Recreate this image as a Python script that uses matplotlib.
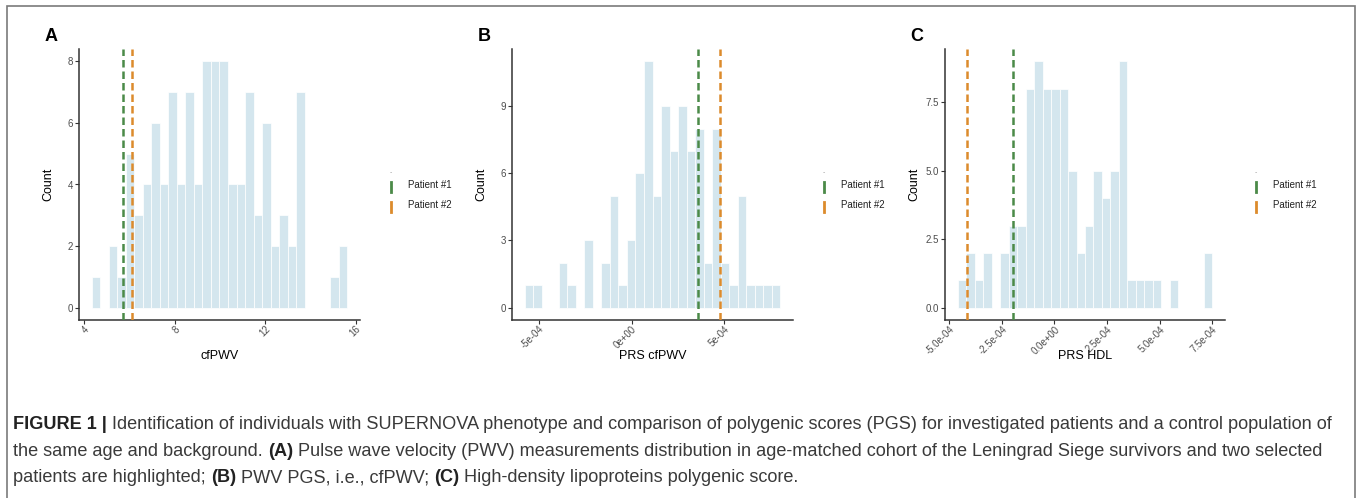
import numpy as np
import matplotlib
matplotlib.use("Agg")
import matplotlib.pyplot as plt
from matplotlib.lines import Line2D
from matplotlib.patches import Rectangle

plt.rcParams['font.family'] = ['Liberation Sans', 'DejaVu Sans']

# ---- data (30 bins per panel) ----
a_range = (4.34, 15.63)
a_counts = [1, 0, 2, 1, 5, 3, 4, 6, 4, 7, 4, 7, 4, 8, 8, 8, 4, 4, 7, 3,
            6, 2, 3, 2, 7, 0, 0, 0, 1, 2]
a_patients = [5.71, 6.12]

b_range = (-5.77e-4, 8.04e-4)
b_counts = [1, 1, 0, 0, 2, 1, 0, 3, 0, 2, 5, 1, 3, 6, 11, 5, 9, 7, 9, 7,
            8, 2, 8, 2, 1, 5, 1, 1, 1, 1]
b_patients = [3.60e-4, 4.77e-4]

c_range = (-4.60e-4, 7.50e-4)
c_counts = [1, 2, 1, 2, 0, 2, 3, 3, 8, 9, 8, 8, 8, 5, 2, 3, 5, 4, 5, 9,
            1, 1, 1, 1, 0, 1, 0, 0, 0, 2]
c_patients = [-1.95e-4, -4.14e-4]

a_xticks = [4, 8, 12, 16]
a_xlabels = ['4', '8', '12', '16']
a_yticks = [0, 2, 4, 6, 8]
a_ylabels = ['0', '2', '4', '6', '8']

b_xticks = [-5e-4, 0, 5e-4]
b_xlabels = ['-5e-04', '0e+00', '5e-04']
b_yticks = [0, 3, 6, 9]
b_ylabels = ['0', '3', '6', '9']

c_xticks = [-5e-4, -2.5e-4, 0, 2.5e-4, 5e-4, 7.5e-4]
c_xlabels = ['-5.0e-04', '-2.5e-04', '0.0e+00', '2.5e-04', '5.0e-04', '7.5e-04']
c_yticks = [0, 2.5, 5.0, 7.5]
c_ylabels = ['0.0', '2.5', '5.0', '7.5']

patient_names = ['Patient #1', 'Patient #2']
patient_colors = ['#4b8a48', '#dc8b2c']
bar_color = '#d4e6ee'

W, H = 1357, 498
fig = plt.figure(figsize=(W / 100, H / 100), dpi=100)

# outer frame
fig.add_artist(Rectangle((7 / W, -0.1), (1355 - 7) / W, 1.1 - 6 / H,
                         transform=fig.transFigure, fill=False,
                         edgecolor='#7a7a7a', linewidth=1.2))


def px_axes(x0, x1, y0, y1):
    return fig.add_axes([x0 / W, 1 - y1 / H, (x1 - x0) / W, (y1 - y0) / H])


def panel(ax, rng, counts, patients, xticks, xlabels, yticks, ylabels,
          xlabel, letter):
    counts = np.array(counts)
    edges = np.linspace(rng[0], rng[1], len(counts) + 1)
    keep = counts > 0
    ax.bar(edges[:-1][keep], counts[keep], width=np.diff(edges)[keep],
           align='edge', color=bar_color, edgecolor='white', linewidth=0.5,
           zorder=1)
    for xv, col in zip(patients, patient_colors):
        ax.axvline(xv, color=col, linewidth=1.8, linestyle=(0, (3.0, 1.6)),
                   zorder=3)
    lo = min(rng[0], min(patients))
    hi = max(rng[1], max(patients))
    pad = (hi - lo) * 0.05
    ax.set_xlim(lo - pad, hi + pad)
    ymax = counts.max()
    ax.set_ylim(-0.05 * ymax, 1.05 * ymax)

    ax.set_xticks(xticks)
    ax.set_xticklabels(xlabels, rotation=45, ha='right', va='top',
                       rotation_mode='anchor', fontsize=6.9)
    ax.set_yticks(yticks)
    ax.set_yticklabels(ylabels, fontsize=7.0)
    ax.tick_params(labelcolor='#4d4d4d', color='#333333',
                   length=3, width=0.8)
    ax.tick_params(axis='x', pad=0)
    ax.tick_params(axis='y', pad=1.5)
    for s in ['top', 'right']:
        ax.spines[s].set_visible(False)
    for s in ['left', 'bottom']:
        ax.spines[s].set_color('#333333')
        ax.spines[s].set_linewidth(1.1)

    ax.set_xlabel(xlabel, fontsize=9)
    ax.xaxis.set_label_coords(0.5, -0.112)
    ax.set_ylabel('Count', fontsize=9)
    ax.yaxis.set_label_coords(-0.088, 0.5)

    ax.text(-0.10, 1.045, letter, transform=ax.transAxes, fontsize=13,
            fontweight='bold', ha='center', va='center')

    # legend drawn beside the panel
    ax.text(1.111, 0.545, '-', transform=ax.transAxes, fontsize=5,
            color='#a0a0a0', ha='center', va='center')
    for i, (name, col) in enumerate(zip(patient_names, patient_colors)):
        yc = 0.495 - i * 0.074
        ax.add_line(Line2D([1.111, 1.111], [yc - 0.022, yc + 0.013],
                           transform=ax.transAxes, color=col, linewidth=2,
                           clip_on=False))
        ax.text(1.172, yc + 0.005, name, transform=ax.transAxes, fontsize=7,
                ha='left', va='center', color='#222222')


ax_a = px_axes(79, 360, 49, 320)
ax_b = px_axes(512, 793, 49, 320)
ax_c = px_axes(945, 1225, 49, 320)

panel(ax_a, a_range, a_counts, a_patients, a_xticks, a_xlabels, a_yticks,
      a_ylabels, 'cfPWV', 'A')
panel(ax_b, b_range, b_counts, b_patients, b_xticks, b_xlabels, b_yticks,
      b_ylabels, 'PRS cfPWV', 'B')
panel(ax_c, c_range, c_counts, c_patients, c_xticks, c_xlabels, c_yticks,
      c_ylabels, 'PRS HDL', 'C')

# ---- caption with bold runs ----
caption = [
    [('FIGURE 1 |', True),
     (' Identification of individuals with SUPERNOVA phenotype and comparison '
      'of polygenic scores (PGS) for investigated patients and a control '
      'population of', False)],
    [('the same age and background. ', False), ('(A)', True),
     (' Pulse wave velocity (PWV) measurements distribution in age-matched '
      'cohort of the Leningrad Siege survivors and two selected', False)],
    [('patients are highlighted; ', False), ('(B)', True),
     (' PWV PGS, i.e., cfPWV; ', False), ('(C)', True),
     (' High-density lipoproteins polygenic score.', False)],
]
cap_color = '#3a3a3a'
renderer = fig.canvas.get_renderer()


def text_width(s, bold, size):
    t = fig.text(0, 0, s, fontsize=size,
                 fontweight='bold' if bold else 'normal')
    w = t.get_window_extent(renderer).width
    t.remove()
    return w


def line_width(segs, size):
    sp = text_width('x x', False, size) - text_width('xx', False, size)
    total = 0
    for s, bold in segs:
        core = s.strip(' ')
        total += (len(s) - len(core)) * sp + text_width(core, bold, size)
    return total


# size the caption so the first line spans the frame like the original
cap_size = 10.0 * 1325 / line_width(caption[0], 10.0)
space_w = text_width('x x', False, cap_size) - text_width('xx', False, cap_size)

for row, segs in enumerate(caption):
    x = 13
    y = 424 + row * 27
    for s, bold in segs:
        lead = len(s) - len(s.lstrip(' '))
        trail = len(s) - len(s.rstrip(' '))
        core = s.strip(' ')
        x += lead * space_w
        fig.text(x / W, 1 - y / H, core, fontsize=cap_size,
                 fontweight='bold' if bold else 'normal',
                 color='#222222' if bold else cap_color,
                 ha='left', va='center')
        x += text_width(core, bold, cap_size) + trail * space_w

fig.savefig('out.png', dpi=100)
